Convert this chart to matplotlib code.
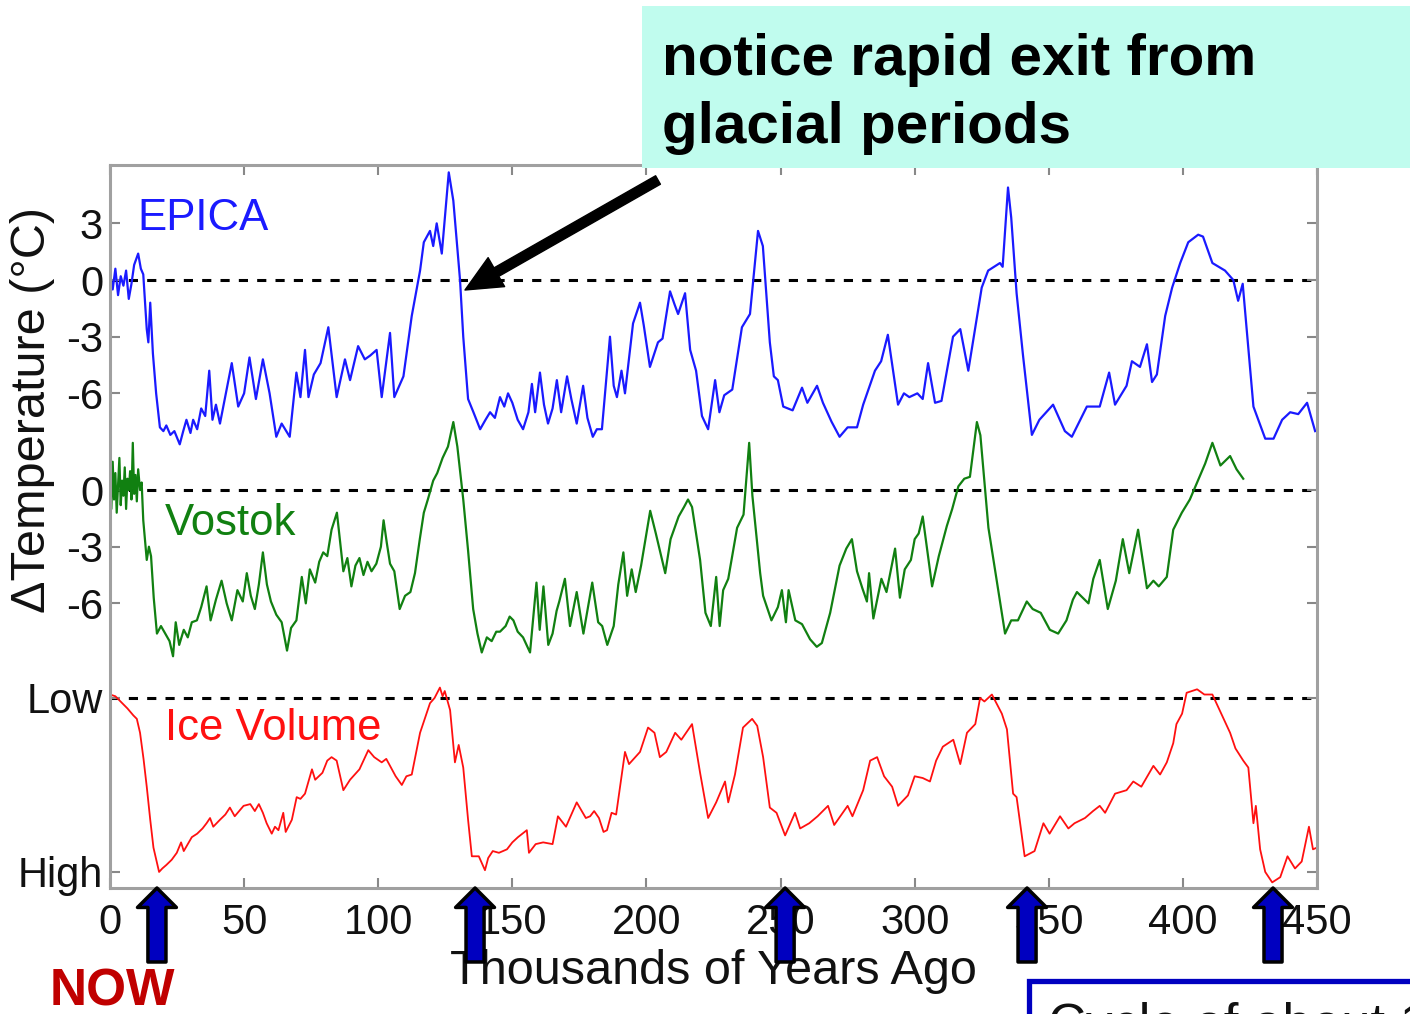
import matplotlib
matplotlib.use('Agg')
import matplotlib.pyplot as plt
import numpy as np

plt.rcParams['font.family'] = ['Liberation Sans', 'DejaVu Sans']

# EPICA: idade (mil anos) x anomalia de temperatura (graus C)
epica_age = [0, 1, 2, 3, 4, 5, 6, 7, 8, 9, 10.5, 11.5, 12.4, 13.7, 14.3, 15, 16, 17.2, 18.6, 19.9,
             21, 22.5, 24, 26, 27.3, 28.5, 30, 31, 32.5, 34, 35.5, 37, 38.2, 39.5, 41, 42.5, 45.4, 47.8, 50, 52,
             54.4, 57, 59.5, 62, 64, 67, 69.5, 71, 72.7, 74, 76, 78.5, 81.4, 84.5, 87.6, 89.5, 92.5, 95, 97, 99.4,
             101.3, 104.4, 106, 109.4, 112.5, 115.6, 117, 119.3, 120.5, 121.8, 123.7, 126.3, 128, 130.5, 131.7, 133.5, 135.5, 138, 140, 141.7,
             143.5, 145.4, 147, 148.4, 150, 152, 154, 156, 157.3, 158.5, 160.3, 161.8, 163.3, 165, 166.6, 168.2, 170.4, 172, 174, 176.4,
             178, 180, 181.5, 183.4, 186.4, 187.8, 189, 190.7, 192, 195, 197.6, 199, 201.3, 204.3, 206, 208.8, 210.5, 211.8, 214.4, 216.3,
             218.5, 220.7, 223, 225.6, 227.2, 229, 232, 235.6, 238.6, 241.6, 243.4, 246, 247.5, 249, 251, 254.5, 258, 260, 263.6, 265.8,
             269, 272, 275, 278.5, 280.8, 285.2, 287.5, 290, 293.8, 296, 298, 301, 303, 305, 307.6, 310, 314.3, 317, 320, 325,
             327.4, 331.8, 332.8, 334.8, 336, 338, 340.4, 343.7, 346.5, 351.6, 356, 358.6, 364.2, 369, 372.5, 374.7, 379, 381, 384, 386.6,
             388.5, 390.3, 393.4, 396, 399, 402, 405.7, 407.5, 411, 415.7, 418.8, 420.6, 422.3, 426.3, 430.7, 433.8, 437, 440, 443, 446.3, 449.3]
epica_temp = [0.3, -0.5, 0.6, -0.8, 0.2, -0.3, 0.5, -1.0, -0.2, 0.8, 1.4, 0.6, 0.3, -2.6, -3.3, -1.2, -3.9, -6.0, -7.8, -8.0,
              -7.7, -8.2, -8.0, -8.7, -8.0, -7.4, -8.1, -7.4, -7.9, -6.8, -7.2, -4.8, -7.4, -6.6, -7.6, -6.5, -4.4, -6.7, -6.0, -4.1,
              -6.3, -4.2, -6.0, -8.3, -7.6, -8.3, -4.9, -6.2, -3.7, -6.2, -5.0, -4.4, -2.5, -6.2, -4.2, -5.3, -3.5, -4.2, -4.0, -3.7,
              -6.2, -2.8, -6.2, -5.1, -1.9, 0.5, 2.0, 2.6, 1.8, 3.0, 1.4, 5.7, 4.2, 0.0, -3.0, -6.3, -7.0, -7.9, -7.4, -7.0,
              -7.3, -6.2, -6.7, -6.0, -6.5, -7.4, -7.9, -7.0, -5.5, -7.0, -4.9, -6.6, -7.6, -6.8, -5.3, -7.0, -5.1, -6.3, -7.6, -5.6,
              -7.3, -8.3, -7.9, -7.9, -3.0, -5.6, -6.2, -4.8, -6.0, -2.3, -1.2, -2.4, -4.6, -3.3, -3.1, -0.6, -1.3, -1.8, -0.7, -3.7,
              -4.8, -7.2, -7.9, -5.3, -7.0, -6.1, -5.8, -2.5, -1.8, 2.6, 1.8, -3.3, -5.1, -5.3, -6.7, -6.9, -5.7, -6.5, -5.6, -6.5,
              -7.5, -8.3, -7.8, -7.8, -6.6, -4.8, -4.3, -2.9, -6.6, -6.0, -6.2, -6.0, -6.3, -4.4, -6.5, -6.4, -3.0, -2.6, -4.8, -0.4,
              0.5, 0.9, 0.7, 4.9, 3.3, -0.7, -4.0, -8.2, -7.4, -6.6, -8.0, -8.3, -6.7, -6.7, -4.9, -6.6, -5.6, -4.3, -4.6, -3.4,
              -5.4, -5.0, -1.9, -0.4, 0.9, 2.0, 2.4, 2.3, 0.9, 0.5, 0.0, -1.1, -0.2, -6.7, -8.4, -8.4, -7.4, -7.0, -7.1, -6.5, -8.0]

# Vostok
vostok_age = [0, 0.5, 1, 1.5, 2, 2.5, 3, 3.5, 4, 4.5, 5, 5.5, 6, 6.5, 7, 7.5, 8, 8.5, 9, 9.5,
              10, 10.5, 11.2, 11.8, 12.4, 13.7, 14.5, 15.3, 16.3, 17.5, 19, 21, 22.2, 23.5, 24.5, 25.8, 27.5, 29, 30.5, 32.4,
              34, 36, 37.5, 39.5, 41.6, 43.5, 45.4, 47.5, 49.5, 51, 52.5, 54, 55.5, 57, 58.5, 60, 62, 64, 66, 67.5,
              69.5, 71.5, 73, 74.5, 76.5, 78, 79.5, 81, 82.6, 84.6, 86, 87, 88.5, 90, 91.5, 93, 94.5, 96, 97.5, 99.3,
              101, 102, 103.2, 104.4, 106, 108, 110, 112, 113.7, 115.5, 117, 118.5, 120.5, 122, 124, 126, 128, 129.5, 131.7, 133.5,
              135.4, 137, 138.6, 140.5, 142.3, 144, 145.4, 147.5, 149, 150.4, 152, 154, 156.6, 159, 160.2, 161.6, 163.4, 165, 166.5, 167.5,
              169.6, 171.5, 174, 176.5, 179.8, 182, 183.5, 185.4, 187.8, 189.5, 191.4, 192.8, 194.5, 196, 198, 201.4, 203.5, 205.5, 207, 209,
              212, 214, 215.5, 217, 220, 222, 224, 226, 227.3, 228.6, 230.5, 233.8, 236.2, 238.3, 239.5, 242.4, 243.5, 246.6, 249, 250.5,
              252, 253, 255.5, 258, 261, 263.5, 265.4, 268.5, 272, 274.5, 276.6, 278.5, 280.5, 282.2, 283, 284.6, 287.6, 289.5, 292.7, 294.5,
              296.3, 298.6, 300, 301.5, 303, 306.5, 309, 312, 314, 316.3, 318.5, 320.6, 323.2, 324.5, 327.5, 330.6, 333.7, 336, 338.5, 341.8,
              344, 347, 350.4, 353.5, 356.6, 359, 360.5, 364.8, 366.6, 369, 372, 375, 377.6, 380, 383.3, 386.6, 389, 391, 394, 396.4,
              399.6, 402.6, 405.3, 408.3, 411, 414, 417.6, 420, 422.5]
vostok_temp = [0.8, -1.0, 1.5, -0.5, 0.9, -1.2, 0.3, 1.7, -0.8, 0.5, -0.3, 1.2, -1.0, 0.6, 0.0, 1.0, -0.5, 2.5, -0.2, 0.8,
               -0.6, 1.1, 0.0, 0.4, -1.6, -3.7, -3.0, -3.5, -5.7, -7.6, -7.2, -7.7, -8.0, -8.8, -7.0, -8.2, -7.4, -7.8, -7.0, -6.9,
               -6.2, -5.1, -6.9, -5.8, -4.8, -6.0, -6.9, -5.3, -5.9, -4.4, -5.6, -6.3, -5.0, -3.3, -5.0, -5.9, -6.6, -7.0, -8.5, -7.3,
               -6.9, -4.6, -6.0, -4.2, -4.9, -3.8, -3.3, -3.5, -2.1, -1.2, -3.0, -4.3, -3.6, -5.1, -4.0, -3.6, -4.5, -3.8, -4.3, -3.9,
               -3.0, -1.6, -2.8, -3.9, -4.3, -6.3, -5.6, -5.4, -4.4, -2.6, -1.2, -0.5, 0.5, 0.9, 1.7, 2.3, 3.6, 2.3, -0.5, -3.2,
               -6.3, -7.6, -8.6, -7.8, -8.0, -7.5, -7.5, -7.2, -6.7, -6.9, -7.5, -7.8, -8.6, -4.9, -7.4, -5.1, -8.2, -7.6, -6.4, -5.9,
               -4.7, -7.2, -5.4, -7.6, -4.9, -7.0, -7.2, -8.2, -7.2, -5.0, -3.3, -5.6, -4.2, -5.4, -4.0, -1.1, -2.3, -3.5, -4.4, -2.6,
               -1.4, -0.9, -0.5, -0.9, -3.7, -6.5, -7.2, -4.6, -7.2, -5.3, -4.7, -2.0, -1.3, 2.5, -0.3, -4.4, -5.6, -6.9, -6.2, -5.3,
               -7.0, -5.3, -6.9, -7.1, -7.9, -8.3, -8.1, -6.5, -4.0, -3.1, -2.6, -4.3, -5.2, -5.9, -4.4, -6.8, -4.7, -5.4, -3.1, -5.7,
               -4.2, -3.7, -2.6, -2.3, -1.4, -5.1, -3.5, -1.9, -1.0, 0.2, 0.6, 0.7, 3.6, 2.9, -2.0, -4.8, -7.6, -6.9, -6.9, -5.9,
               -6.3, -6.5, -7.4, -7.6, -6.9, -5.8, -5.4, -6.0, -4.7, -3.7, -6.3, -4.8, -2.6, -4.4, -2.1, -5.2, -4.8, -5.1, -4.6, -2.1,
               -1.2, -0.5, 0.4, 1.4, 2.5, 1.3, 1.8, 1.1, 0.6]

# volume de gelo (0 = Low, 1 = High)
ice_age = [0, 2, 4.6, 6.5, 8.7, 10, 11.2, 12.5, 13.7, 15, 16.2, 18.3, 19.5, 21, 23, 24.9, 26.5, 27.5, 29, 30.5,
           32.5, 34.5, 36, 37.3, 38.5, 41, 43, 44.7, 46.5, 49.8, 52.3, 54, 55.5, 57, 58.4, 60.3, 61.5, 62.8, 64.6, 65.5,
           67.8, 69.6, 71, 72.7, 75.3, 76.5, 79.2, 81, 82.6, 84.5, 87, 89.5, 93, 96.3, 98.5, 101.3, 103, 104.4, 106.5, 108.8,
           110.5, 112.5, 115.6, 119.3, 121, 123, 124, 124.8, 126.8, 128.6, 130, 131.7, 133.5, 134.9, 137.5, 139.8, 141, 142.7, 145, 148,
           150, 152.1, 155.4, 156.2, 158.7, 161.5, 165, 167, 170, 174, 177.4, 179, 180.5, 182.3, 184, 185.3, 187, 188.7, 192, 193.5,
           197.6, 200.6, 203, 205, 207.4, 210.7, 213, 217, 220, 223, 226, 229.3, 230.5, 233, 236, 239.4, 241.3, 243.5, 246, 248.5,
           251.7, 255.4, 257.3, 260.7, 263.8, 267.7, 270, 275, 276.8, 280.8, 283.4, 286, 288.6, 291.6, 293.8, 297.5, 300, 303, 305.7, 308,
           310.5, 314.4, 317, 319.5, 322.6, 324.4, 326, 328.8, 332.5, 334.4, 336.7, 338, 341, 344.7, 348, 350.3, 354.2, 357.3, 359.6, 363.5,
           366.5, 369, 371, 374.7, 379, 381.5, 384.5, 389, 391.5, 394, 396.4, 397.6, 399.7, 401.4, 405.3, 408, 411, 414.6, 417.6, 419.6,
           422.5, 424.4, 426.3, 427.2, 428.8, 430.7, 433.3, 436.3, 439, 441.8, 444.3, 447, 448.5, 450]
ice_vol = [-0.02, -0.01, 0.03, 0.06, 0.1, 0.12, 0.2, 0.35, 0.51, 0.7, 0.86, 1.0, 0.98, 0.96, 0.93, 0.89, 0.83, 0.88, 0.84, 0.8,
           0.78, 0.75, 0.72, 0.69, 0.74, 0.7, 0.67, 0.63, 0.68, 0.62, 0.61, 0.65, 0.61, 0.66, 0.72, 0.78, 0.74, 0.76, 0.66, 0.77,
           0.7, 0.57, 0.58, 0.55, 0.41, 0.47, 0.43, 0.36, 0.34, 0.36, 0.53, 0.47, 0.41, 0.3, 0.34, 0.37, 0.35, 0.39, 0.45, 0.5,
           0.45, 0.44, 0.2, 0.03, 0.0, -0.06, -0.01, -0.04, 0.07, 0.37, 0.27, 0.4, 0.7, 0.91, 0.91, 0.99, 0.92, 0.88, 0.89, 0.87,
           0.83, 0.8, 0.76, 0.89, 0.84, 0.83, 0.84, 0.68, 0.74, 0.6, 0.69, 0.68, 0.65, 0.69, 0.77, 0.76, 0.66, 0.67, 0.31, 0.38,
           0.31, 0.17, 0.2, 0.34, 0.31, 0.2, 0.24, 0.15, 0.43, 0.69, 0.6, 0.48, 0.6, 0.44, 0.17, 0.12, 0.16, 0.34, 0.63, 0.66,
           0.79, 0.66, 0.75, 0.72, 0.68, 0.62, 0.73, 0.62, 0.68, 0.53, 0.36, 0.34, 0.45, 0.51, 0.62, 0.56, 0.45, 0.46, 0.48, 0.36,
           0.28, 0.24, 0.38, 0.2, 0.15, 0.0, 0.02, -0.02, 0.09, 0.18, 0.55, 0.57, 0.91, 0.88, 0.72, 0.78, 0.68, 0.75, 0.72, 0.69,
           0.65, 0.62, 0.66, 0.55, 0.53, 0.48, 0.51, 0.39, 0.44, 0.37, 0.26, 0.15, 0.09, -0.03, -0.05, -0.02, -0.02, 0.1, 0.2, 0.29,
           0.36, 0.4, 0.72, 0.62, 0.87, 1.0, 1.06, 1.03, 0.91, 0.98, 0.94, 0.74, 0.87, 0.86]

# setas azuis (saída dos glaciais)
arrow_ages = [17.5, 136.1, 251.7, 341.9, 433.6]

# deslocamentos verticais das curvas (em graus do EPICA)
VOSTOK_OFF = -11.12
ICE_LOW = -22.13
ICE_HIGH = -31.34

W, H = 1410, 1014
fig = plt.figure(figsize=(W / 100, H / 100), dpi=100)
ax = fig.add_axes([110 / W, 1 - 888 / H, (1317 - 110) / W, (888 - 165) / H])

def fpx(x, y):
    return x / W, 1 - y / H

ice_y = ICE_LOW + np.array(ice_vol) * (ICE_HIGH - ICE_LOW)

for yy in [0, VOSTOK_OFF, ICE_LOW]:
    ax.axhline(yy, color='black', ls=(0, (3, 3)), lw=2.2, zorder=1)

ax.plot(epica_age, epica_temp, color='#1a1aff', lw=1.6)
ax.plot(vostok_age, np.array(vostok_temp) + VOSTOK_OFF, color='#118011', lw=1.6)
ax.plot(ice_age, ice_y, color='#ff1010', lw=1.3)

ax.set_xlim(0, 450)
ax.set_ylim(-32.19, 6.09)
ax.set_xticks(range(0, 451, 50))
ax.set_yticks([3, 0, -3, -6, VOSTOK_OFF, VOSTOK_OFF - 3, VOSTOK_OFF - 6, ICE_LOW, ICE_HIGH])
ax.set_yticklabels(['3', '0', '-3', '-6', '0', '-3', '-6', 'Low', 'High'])
ax.tick_params(direction='in', top=True, right=True, length=7, width=1.5, color='#888888',
               labelsize=30, labelcolor='#111111')
ax.tick_params(axis='x', pad=11)
ax.tick_params(axis='y', pad=5)
for s in ax.spines.values():
    s.set_color('#a0a0a0')
    s.set_linewidth(2.2)
ax.set_xlabel('Thousands of Years Ago', fontsize=35, color='#111111', labelpad=4)

fig.text(*fpx(33, 410), '\u0394Temperature (\u00b0C)', rotation=90, ha='center', va='center',
         fontsize=35, color='#111111')

fig.text(*fpx(137, 230), 'EPICA', color='#1a1aff', fontsize=31.5, va='baseline')
fig.text(*fpx(165, 535), 'Vostok', color='#118011', fontsize=31.5, va='baseline')
fig.text(*fpx(165, 740), 'Ice Volume', color='#ff1010', fontsize=31.5, va='baseline')

# caixa de anotação
fig.patches.append(plt.Rectangle(fpx(642, 168), (W - 642) / W, (168 - 6) / H,
                                 transform=fig.transFigure, fc='#c0fcee', ec='none', zorder=2))
fig.text(*fpx(662, 75), 'notice rapid exit from', fontsize=42, fontweight='bold', va='baseline', zorder=3)
fig.text(*fpx(662, 143), 'glacial periods', fontsize=42, fontweight='bold', va='baseline', zorder=3)

ax.annotate('', xy=(465, H - 290), xycoords='figure pixels', xytext=(658, H - 180), textcoords='figure pixels',
            arrowprops=dict(arrowstyle='simple,head_width=24,head_length=26,tail_width=7', mutation_scale=1,
                            fc='black', ec='black', shrinkA=0, shrinkB=0), annotation_clip=False)

for a in arrow_ages:
    ax.annotate('', xy=(a, 0), xycoords=('data', 'axes fraction'), xytext=(0, -74), textcoords='offset pixels',
                arrowprops=dict(arrowstyle='simple,head_width=28,head_length=14,tail_width=13', mutation_scale=1,
                                fc='#0000c0', ec='black', lw=2.5, shrinkA=0, shrinkB=0),
                annotation_clip=False)

fig.text(*fpx(112, 1005), 'NOW', color='#c00000', fontsize=37, fontweight='bold', ha='center', va='baseline')

# caixa azul cortada no canto
fig.patches.append(plt.Rectangle(fpx(1029, 1100), 500 / W, 119 / H, transform=fig.transFigure,
                                 fc='white', ec='#0000c0', lw=3.8, zorder=2))
fig.text(*fpx(1048, 1002), 'Cycle of about 100,000 years', fontsize=38, va='top', color='#111111', zorder=3)

fig.savefig('out.png', dpi=100)
